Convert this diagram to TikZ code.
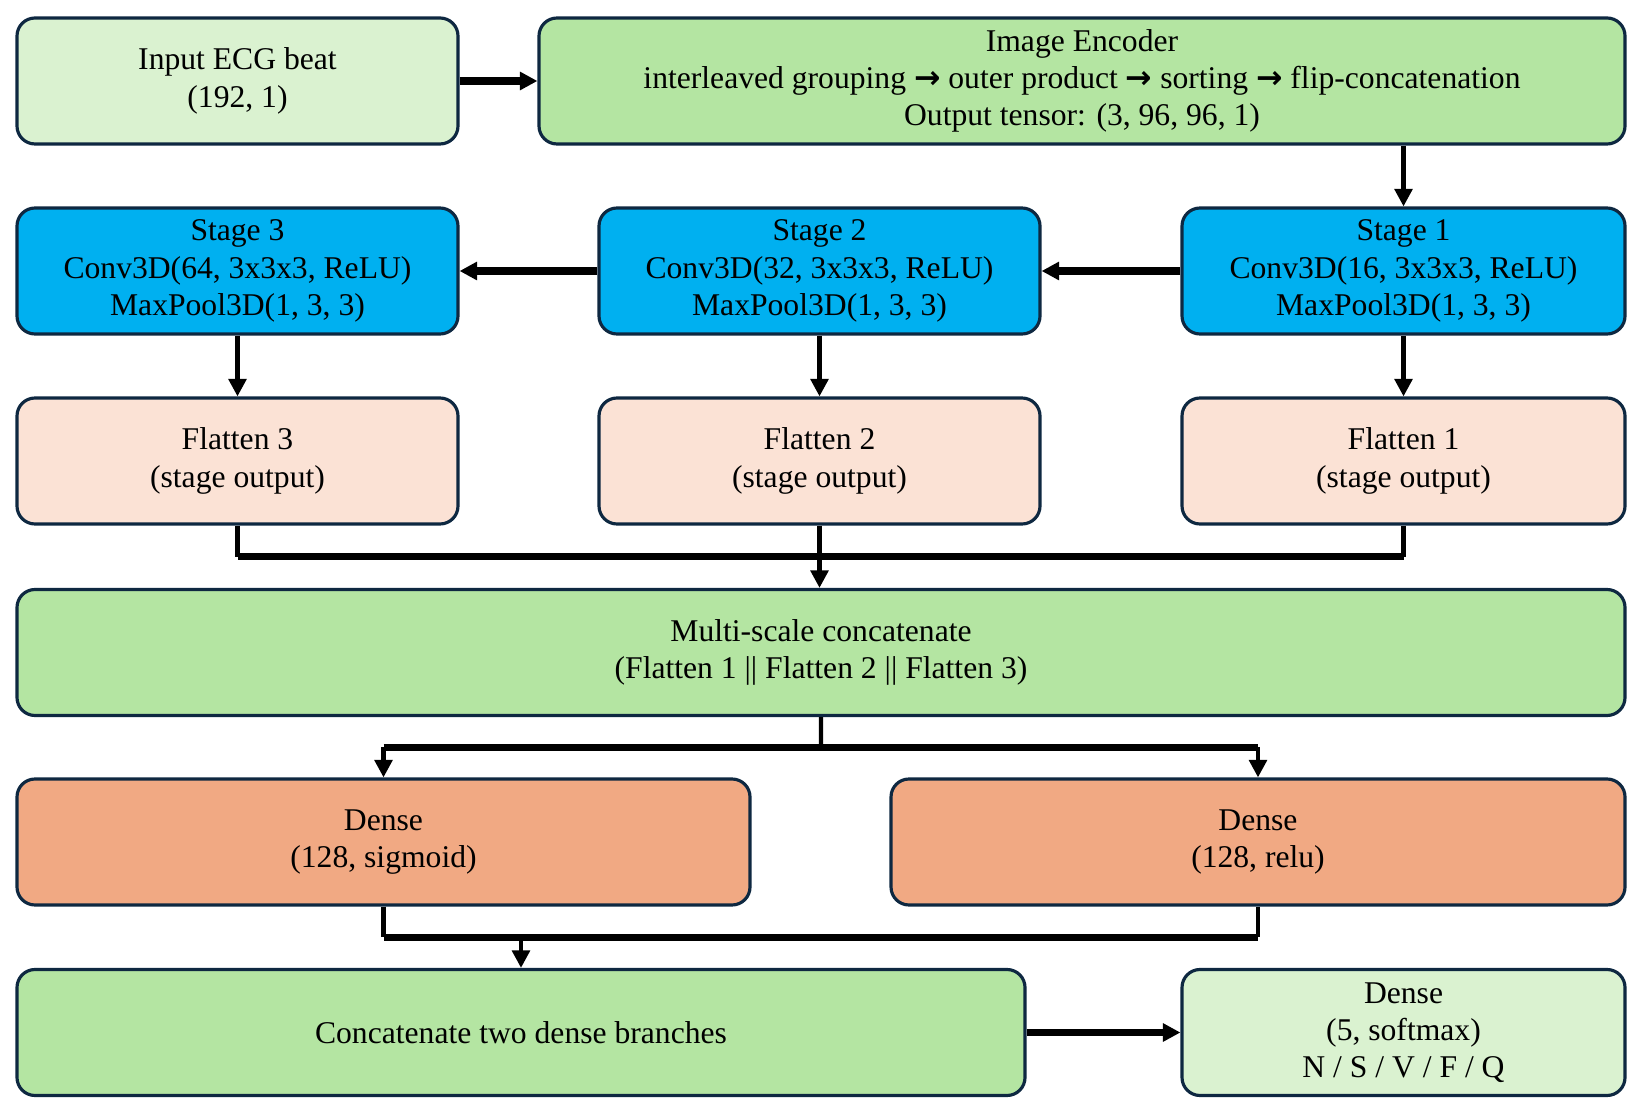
\documentclass[tikz,border=0pt]{standalone}
\usepackage{fontspec}
\setmainfont{Liberation Serif}
\newfontfamily\arrowfont{DejaVu Sans}
\usetikzlibrary{positioning}
\usetikzlibrary{calc}
\usetikzlibrary{arrows.meta}
\definecolor{edge}{RGB}{14,40,65}
\definecolor{lightgreen}{RGB}{218,242,208}
\definecolor{midgreen}{RGB}{180,229,162}
\definecolor{stageblue}{RGB}{0,176,240}
\definecolor{peach}{RGB}{251,226,213}
\definecolor{salmon}{RGB}{241,169,131}
\newcommand{\then}{{\arrowfont\bfseries →}}

\begin{document}
\begin{tikzpicture}[
    >={Triangle[length=5pt,width=5pt]},
    box/.style={draw=edge, line width=0.9pt, rounded corners=0.18cm, align=center,
        minimum height=1.26cm, inner sep=2pt,
        font=\fontsize{9}{10.6}\selectfont},
    link/.style={line width=1.2pt},
    bus/.style={line width=2pt}
]
    \useasboundingbox (0,0) rectangle (16.43,11.14);

    % top row
    \node[box, fill=lightgreen, minimum width=4.41cm] (inp) at (2.375, 10.33) {Input ECG beat\\(192, 1)};
    \node[box, fill=midgreen, minimum width=10.86cm] (enc) at (10.82, 10.33)
        {Image Encoder\\interleaved grouping \then{} outer product \then{} sorting \then{} flip-concatenation\\Output tensor: (3, 96, 96, 1)};

    % conv stages
    \node[box, fill=stageblue, minimum width=4.41cm] (st3) at (2.375, 8.43) {Stage 3\\Conv3D(64, 3x3x3, ReLU)\\MaxPool3D(1, 3, 3)};
    \node[box, fill=stageblue, minimum width=4.41cm] (st2) at (8.195, 8.43) {Stage 2\\Conv3D(32, 3x3x3, ReLU)\\MaxPool3D(1, 3, 3)};
    \node[box, fill=stageblue, minimum width=4.43cm] (st1) at (14.035, 8.43) {Stage 1\\Conv3D(16, 3x3x3, ReLU)\\MaxPool3D(1, 3, 3)};

    % flatten
    \node[box, fill=peach, minimum width=4.41cm] (fl3) at (2.375, 6.53) {Flatten 3\\(stage output)};
    \node[box, fill=peach, minimum width=4.41cm] (fl2) at (8.195, 6.53) {Flatten 2\\(stage output)};
    \node[box, fill=peach, minimum width=4.43cm] (fl1) at (14.035, 6.53) {Flatten 1\\(stage output)};

    \node[box, fill=midgreen, minimum width=16.08cm] (msc) at (8.21, 4.615) {Multi-scale concatenate\\(Flatten 1 || Flatten 2 || Flatten 3)};

    % dense branches
    \node[box, fill=salmon, minimum width=7.33cm] (dsig) at (3.835, 2.72) {Dense\\(128, sigmoid)};
    \node[box, fill=salmon, minimum width=7.34cm] (drelu) at (12.58, 2.72) {Dense\\(128, relu)};

    \node[box, fill=midgreen, minimum width=10.08cm] (cat) at (5.21, 0.815) {Concatenate two dense branches};
    \node[box, fill=lightgreen, minimum width=4.43cm] (out) at (14.035, 0.815) {Dense\\(5, softmax)\\N / S / V / F / Q};

    \coordinate (j1) at ($(fl2.south)!0.5!(fl2.south |- msc.north)$);
    \coordinate (j2) at ($(msc.south)!0.5!(dsig.north -| msc.south)$);
    \coordinate (j3) at ($(cat.north)!0.5!(dsig.south -| cat.north)$);

    \draw[->, bus] (inp) -- (enc);
    \draw[->, link] (enc.south -| st1.north) -- (st1.north);
    \draw[->, bus] (st1) -- (st2);
    \draw[->, bus] (st2) -- (st3);

    \draw[->, link] (st1) -- (fl1);
    \draw[->, link] (st2) -- (fl2);
    \draw[->, link] (st3) -- (fl3);

    \draw[link] (fl3.south) -- (fl3.south |- j1);
    \draw[link] (fl1.south) -- (fl1.south |- j1);
    \draw[bus] (fl3.south |- j1) -- (fl1.south |- j1);
    \draw[->, link] (fl2.south) -- (fl2.south |- msc.north);

    \draw[link] (msc.south) -- (j2);
    \draw[bus] (j2 -| dsig.north) -- (j2 -| drelu.north);
    \draw[->, link] (j2 -| dsig.north) -- (dsig.north);
    \draw[->, link] (j2 -| drelu.north) -- (drelu.north);

    \draw[link] (dsig.south) -- (dsig.south |- j3);
    \draw[link] (drelu.south) -- (drelu.south |- j3);
    \draw[bus] (dsig.south |- j3) -- (drelu.south |- j3);
    \draw[->, link] (j3) -- (cat.north);

    \draw[->, bus] (cat) -- (out);
\end{tikzpicture}
\end{document}
